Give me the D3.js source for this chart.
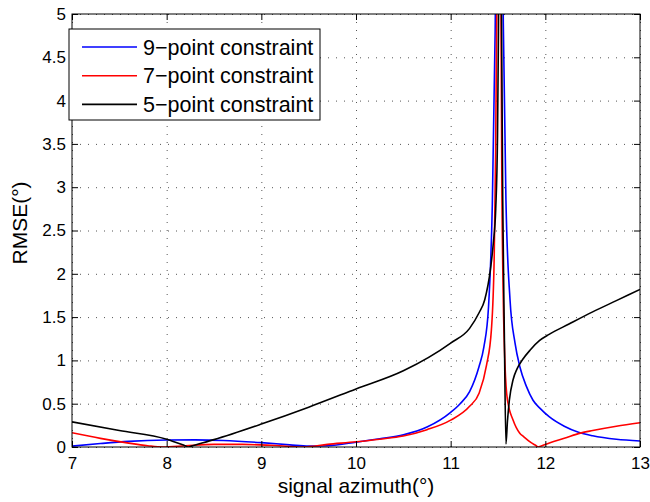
<!DOCTYPE html>
<html>
<head>
<meta charset="utf-8">
<script src="https://cdn.jsdelivr.net/npm/d3@7"></script>
<style>
  body { margin: 0; background: #fff; }
  text { font-family: "Liberation Sans", Arial, Helvetica, sans-serif; }
</style>
</head>
<body>
<div id="chart"></div>
<script>
const width = 650, height = 502;
const margin = { top: 14, right: 10, bottom: 55, left: 72 };

// signal azimuth (deg) and RMSE (deg), one pair of arrays per curve
const az9 = [7, 7.3, 7.6, 8, 8.3, 8.6, 9, 9.3, 9.5, 9.7, 10, 10.25, 10.5, 10.75, 11, 11.1, 11.2, 11.3, 11.35, 11.4,
  11.44, 11.47, 11.49, 11.514, 11.54, 11.556, 11.584, 11.627, 11.68, 11.73, 11.8, 11.87, 11.95, 12.04, 12.2, 12.35, 12.5, 12.75, 13];
const rmse9 = [0.01, 0.04, 0.065, 0.08, 0.082, 0.075, 0.05, 0.025, 0.01, 0.015, 0.055, 0.095, 0.14, 0.23, 0.40, 0.50, 0.64, 0.93, 1.15, 1.62,
  2.8, 4.8, 7, 10, 7, 4.9, 2.85, 1.70, 1.2, 0.93, 0.70, 0.54, 0.44, 0.35, 0.24, 0.17, 0.13, 0.09, 0.07];

const az7 = [7, 7.3, 7.6, 7.8, 7.96, 8.2, 8.5, 8.8, 9.1, 9.44, 9.7, 10, 10.25, 10.5, 10.75, 11, 11.2, 11.3, 11.38, 11.43,
  11.46, 11.475, 11.488, 11.51, 11.53, 11.54, 11.556, 11.574, 11.6, 11.66, 11.73, 11.77, 11.85, 11.9, 11.925, 11.95, 12.05, 12.2, 12.37, 12.5, 12.75, 13];
const rmse7 = [0.165, 0.10, 0.045, 0.015, 0.0, 0.015, 0.03, 0.03, 0.02, 0.0, 0.03, 0.06, 0.09, 0.127, 0.2, 0.31, 0.47, 0.62, 0.95, 1.35,
  2.2, 3.4, 5.2, 9, 5.5, 3.2, 1.7, 0.95, 0.54, 0.31, 0.16, 0.12, 0.05, 0.017, 0.0, 0.01, 0.05, 0.10, 0.16, 0.19, 0.24, 0.28];

const az5 = [7, 7.5, 8, 8.2, 8.23, 8.26, 8.5, 9, 9.5, 10, 10.5, 11, 11.2, 11.3, 11.36, 11.42, 11.45, 11.476, 11.495, 11.505, 11.52,
  11.537, 11.55, 11.567, 11.584, 11.6, 11.62, 11.66, 11.7, 11.76, 11.84, 11.94, 12.04, 12.25, 12.5, 12.75, 13];
const rmse5 = [0.29, 0.19, 0.09, 0.012, 0.0, 0.01, 0.085, 0.265, 0.46, 0.67, 0.88, 1.2, 1.37, 1.55, 1.70, 2.05, 2.35, 2.75, 3.6, 4.8, 8,
  5, 2.85, 1.31, 0.035, 0.3, 0.54, 0.78, 0.9, 1.01, 1.12, 1.23, 1.30, 1.42, 1.56, 1.69, 1.82];

const seriesNames = ["9\u2212point constraint", "7\u2212point constraint", "5\u2212point constraint"];
const seriesColors = ["#0000ff", "#ff0000", "#000000"];

const xTicks = [7, 8, 9, 10, 11, 12, 13];
const yTicks = [0, 0.5, 1, 1.5, 2, 2.5, 3, 3.5, 4, 4.5, 5];

const series = [
  { name: seriesNames[0], color: seriesColors[0], values: az9.map((a, i) => ({ x: a, y: rmse9[i] })) },
  { name: seriesNames[1], color: seriesColors[1], values: az7.map((a, i) => ({ x: a, y: rmse7[i] })) },
  { name: seriesNames[2], color: seriesColors[2], values: az5.map((a, i) => ({ x: a, y: rmse5[i] })) }
];

const innerW = width - margin.left - margin.right;
const innerH = height - margin.top - margin.bottom;

const x = d3.scaleLinear().domain([7, 13]).range([0, innerW]);
const y = d3.scaleLinear().domain([0, 5]).range([innerH, 0]);

const svg = d3.select("#chart").append("svg")
  .attr("width", width)
  .attr("height", height);

const g = svg.append("g").attr("transform", `translate(${margin.left},${margin.top})`);

g.append("defs").append("clipPath").attr("id", "plotClip")
  .append("rect").attr("width", innerW).attr("height", innerH);

// dotted grid
const gridX = g.append("g").attr("transform", `translate(0,${innerH})`)
  .call(d3.axisBottom(x).tickValues(xTicks).tickSize(-innerH).tickFormat(""));
const gridY = g.append("g")
  .call(d3.axisLeft(y).tickValues(yTicks).tickSize(-innerW).tickFormat(""));
[gridX, gridY].forEach(gr => {
  gr.select(".domain").remove();
  gr.selectAll("line")
    .attr("stroke", "#555")
    .attr("stroke-width", 1)
    .attr("stroke-dasharray", "1,7");
});

// curves
const line = d3.line().x(d => x(d.x)).y(d => y(d.y)).curve(d3.curveMonotoneX);

g.append("g").attr("clip-path", "url(#plotClip)")
  .selectAll("path")
  .data(series)
  .enter()
  .append("path")
  .attr("fill", "none")
  .attr("stroke", d => d.color)
  .attr("stroke-width", 1.6)
  .attr("stroke-linejoin", "round")
  .attr("d", d => line(d.values));

// axes, ticks pointing inward on all four sides
const tickStyle = sel => {
  sel.select(".domain").remove();
  sel.selectAll("line").attr("stroke", "#000");
  sel.selectAll("text").attr("fill", "#000").style("font-size", "17px");
};

g.append("g").attr("transform", `translate(0,${innerH})`)
  .call(d3.axisBottom(x).tickValues(xTicks).tickSize(-6).tickPadding(10).tickFormat(d3.format("d")))
  .call(tickStyle);
g.append("g")
  .call(d3.axisTop(x).tickValues(xTicks).tickSize(-6).tickFormat(""))
  .call(tickStyle);
g.append("g")
  .call(d3.axisLeft(y).tickValues(yTicks).tickSize(-6).tickPadding(6).tickFormat(d => String(d)))
  .call(tickStyle);
g.append("g").attr("transform", `translate(${innerW},0)`)
  .call(d3.axisRight(y).tickValues(yTicks).tickSize(-6).tickFormat(""))
  .call(tickStyle);

g.append("rect")
  .attr("width", innerW)
  .attr("height", innerH)
  .attr("fill", "none")
  .attr("stroke", "#000")
  .attr("stroke-width", 1);

// axis titles
svg.append("text")
  .attr("x", margin.left + innerW / 2)
  .attr("y", 493)
  .attr("text-anchor", "middle")
  .style("font-size", "21px")
  .text("signal azimuth(\u00b0)");

svg.append("text")
  .attr("transform", "translate(27,223) rotate(-90)")
  .attr("text-anchor", "middle")
  .style("font-size", "21px")
  .text("RMSE(\u00b0)");

// legend
const legend = svg.append("g").attr("transform", "translate(69,29)");
legend.append("rect")
  .attr("width", 251)
  .attr("height", 91)
  .attr("fill", "#fff")
  .attr("stroke", "#000")
  .attr("stroke-width", 1);

const rows = legend.selectAll(".row")
  .data(series)
  .enter()
  .append("g")
  .attr("class", "row")
  .attr("transform", (d, i) => `translate(0,${18 + i * 28.7})`);

rows.append("line")
  .attr("x1", 13).attr("x2", 68)
  .attr("stroke", d => d.color)
  .attr("stroke-width", 1.6);

rows.append("text")
  .attr("x", 74)
  .attr("y", 7.7)
  .style("font-size", "21.5px")
  .text(d => d.name);
</script>
</body>
</html>
